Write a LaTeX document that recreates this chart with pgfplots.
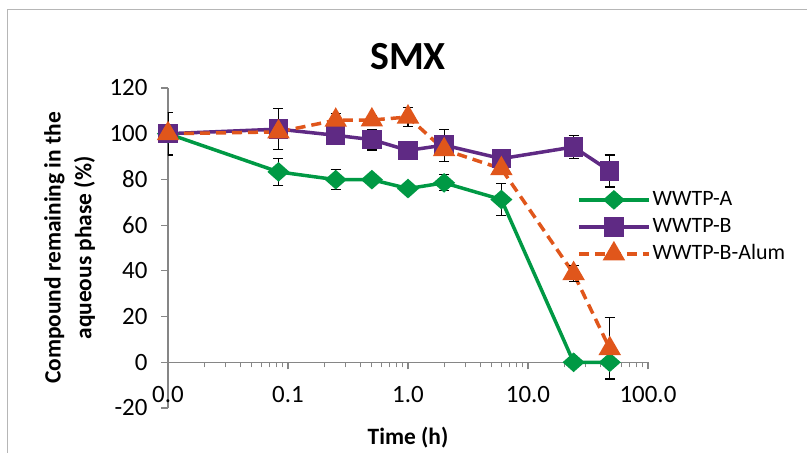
\documentclass[border=0pt]{standalone}
\usepackage{pgfplots}
\pgfplotsset{compat=1.18}
\usepackage{fontspec}
\setmainfont{Carlito}
\definecolor{cgreen}{RGB}{0,153,68}
\definecolor{cpurple}{RGB}{95,42,132}
\definecolor{corange}{RGB}{224,86,27}
\definecolor{caxis}{RGB}{134,134,134}
\begin{document}
\begin{tikzpicture}
\useasboundingbox (0,0) rectangle (807bp,453bp);
\draw[caxis!60, line width=1bp] (7bp,0) -- (7bp,443bp) -- (807bp,443bp);
\begin{axis}[
  at={(168bp,45bp)}, anchor=south west,
  scale only axis, width=480bp, height=320bp,
  xmode=log, xmin=0.01, xmax=100, ymin=-20, ymax=120,
  axis x line=middle, axis y line=left,
  hide obscured x ticks=false, hide obscured y ticks=false,
  axis line style={-, draw=caxis, line width=1.2bp},
  xtick={0.01,0.1,1,10,100}, xticklabels={0.0,0.1,1.0,10.0,100.0},
  ytick={-20,0,20,40,60,80,100,120}, yticklabels={-20,0,20,40,60,80,100,120},
  tick align=outside, tick style={draw=caxis, line width=1.2bp},
  major tick length=7bp, minor tick length=5bp,
  tick label style={font=\fontsize{25}{29}\selectfont},
  xticklabel style={anchor=center, yshift=-25bp},
  yticklabel style={xshift=-10bp},
  title={SMX},
  title style={font=\bfseries\fontsize{40}{44}\selectfont, at={(axis description cs:0.5,1)}, anchor=center, yshift=25bp},
  xlabel={Time (h)},
  xlabel style={font=\bfseries\fontsize{23.5}{28}\selectfont, at={(axis description cs:0.5,0)}, anchor=center, yshift=-30bp},
  ylabel={Compound remaining in the\\aqueous phase (\%)},
  ylabel style={font=\bfseries\fontsize{23.5}{31}\selectfont, align=center, at={(axis description cs:-0.205,0.5)}, anchor=center},
  legend image code/.code={\draw[mark repeat=2,mark phase=2,#1] plot coordinates {(0bp,0bp) (35bp,0bp) (70bp,0bp)};},
  legend style={at={(axis description cs:0.852,0.566)}, anchor=west, draw=none, fill=none,
    font=\fontsize{22}{26}\selectfont, row sep=2bp, inner sep=0pt,
    nodes={inner sep=2bp, text height=16bp, text depth=5bp}},
  legend cell align=left,
  error bars/error bar style={black, line width=1.2bp, solid},
  error bars/error mark options={black, mark size=5bp, line width=1.2bp, rotate=90},
]
\addplot[color=cgreen, line width=3.5bp, mark=diamond*, mark size=7.5bp, mark options={solid, fill=cgreen, draw=cgreen, xscale=1.5},
  error bars/.cd, y dir=both, y explicit]
  table[x=x, y=y, y error=e] {
x y e
0.01 100 0
0.0833 83.3 5.9
0.25 79.9 4.3
0.5 79.9 2
1 76 1.5
2 78.5 3.5
6 71.2 7
24 0 0
48 0 7
};
\addlegendentry{WWTP-A}
\addplot[color=cpurple, line width=3.5bp, mark=square*, mark size=8bp, mark options={solid, fill=cpurple, draw=cpurple},
  error bars/.cd, y dir=both, y explicit]
  table[x=x, y=y, y error=e] {
x y e
0.01 100 0
0.0833 102 9
0.25 99.3 0
0.5 97.4 4.5
1 92.7 0
2 95 7
6 89.1 0
24 94.2 5
48 83.7 7
};
\addlegendentry{WWTP-B}
\addplot[color=corange, line width=3.5bp, dash pattern=on 10bp off 6bp, mark=triangle*, mark size=9.5bp, mark options={solid, fill=corange, draw=corange},
  error bars/.cd, y dir=both, y explicit]
  table[x=x, y=y, y error=e] {
x y e
0.01 100 9.3
0.0833 100.8 0
0.25 105.9 3
0.5 106 2
1 107.3 4
2 93 0
6 84.7 0
24 38.8 3.6
48 6 13.5
};
\addlegendentry{WWTP-B-Alum}
\end{axis}
\end{tikzpicture}
\end{document}
